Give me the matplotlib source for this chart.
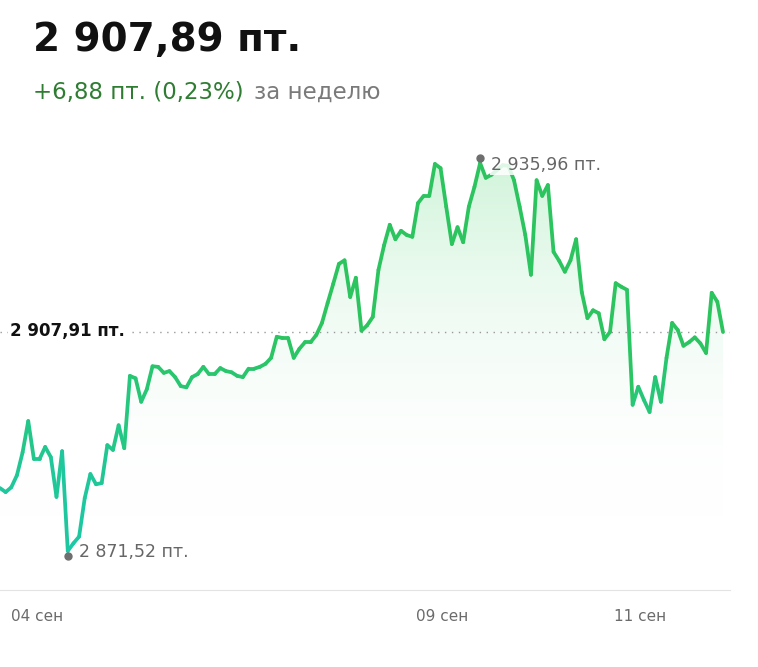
import numpy as np
import matplotlib
matplotlib.use("Agg")
import matplotlib.pyplot as plt
from matplotlib.collections import LineCollection
from matplotlib.colors import LinearSegmentedColormap
from matplotlib.patches import Polygon

values = [2881.97, 2881.3, 2882.1, 2884.1, 2887.9, 2893.1, 2886.8, 2886.8, 2888.8, 2887.1,
          2880.5, 2888.1, 2871.52, 2872.8, 2873.9, 2880.3, 2884.3, 2882.6, 2882.8, 2889.1,
          2888.3, 2892.4, 2888.6, 2900.6, 2900.2, 2896.3, 2898.4, 2902.2, 2902.1, 2901.1,
          2901.4, 2900.4, 2898.9, 2898.7, 2900.4, 2900.9, 2902.1, 2900.9, 2900.9, 2901.9,
          2901.4, 2901.2, 2900.6, 2900.4, 2901.8, 2901.8, 2902.1, 2902.6, 2903.6, 2907.1,
          2906.9, 2906.9, 2903.6, 2905.1, 2906.2, 2906.2, 2907.4, 2909.4, 2912.7, 2915.9,
          2919.2, 2919.8, 2913.7, 2916.9, 2908.1, 2909.0, 2910.4, 2918.2, 2922.3, 2925.7,
          2923.3, 2924.7, 2924.0, 2923.7, 2929.3, 2930.5, 2930.5, 2935.8, 2935.1, 2928.7,
          2922.5, 2925.3, 2922.8, 2928.7, 2932.0, 2935.96, 2933.5, 2934.0, 2934.8, 2935.6,
          2935.5, 2933.1, 2928.7, 2924.0, 2917.4, 2933.1, 2930.5, 2932.3, 2921.2, 2919.7,
          2917.9, 2919.8, 2923.3, 2914.5, 2910.2, 2911.5, 2911.0, 2906.7, 2907.9, 2916.0,
          2915.4, 2914.9, 2895.8, 2898.8, 2896.6, 2894.6, 2900.4, 2896.3, 2903.6, 2909.4,
          2908.2, 2905.6, 2906.2, 2907.0, 2906.0, 2904.4, 2914.4, 2912.9, 2907.89]
prev_close = 2907.91
tick_labels = ["04 сен", "09 сен", "11 сен"]
tick_frac = [37 / 723, 442 / 723, 640 / 723]

n = len(values)
x = np.arange(n)
y = np.array(values)

fig = plt.figure(figsize=(7.58, 6.67), dpi=100)
ax = fig.add_axes([0, 1 - 590 / 667, 730 / 758, 450 / 667])
xmax = (n - 1) * 730 / 723
ax.set_xlim(0, xmax)
ylo, yhi = 2865.04, 2939.78
ax.set_ylim(ylo, yhi)
for s in ["top", "right", "left"]:
    ax.spines[s].set_visible(False)
ax.spines["bottom"].set_color("#e3e3e3")
ax.set_yticks([])
ax.set_xticks([f * (n - 1) for f in tick_frac])
ax.set_xticklabels(tick_labels, color="#6b6b6b", fontsize=11)
ax.tick_params(axis="x", length=0, pad=14)

# gradient fill
fillcmap = LinearSegmentedColormap.from_list("f", [(1, 1, 1, 0), (0.82, 0.96, 0.86, 1)])
grad = np.linspace(0, 1, 256).reshape(-1, 1)
im = ax.imshow(grad, extent=[0, n - 1, 2877, max(values)], origin="lower",
               aspect="auto", cmap=fillcmap, zorder=1)
poly = Polygon(np.column_stack([np.r_[x, x[-1], 0], np.r_[y, 2877, 2877]]),
               closed=True, transform=ax.transData, facecolor="none", edgecolor="none")
ax.add_patch(poly)
im.set_clip_path(poly)

# dotted reference line
ax.axhline(prev_close, color="#9a9a9a", lw=1, ls=(0, (1, 4)), zorder=2)

# gradient line (teal at the low left, green at the top/right)
pts = np.column_stack([x, y]).reshape(-1, 1, 2)
segs = np.concatenate([pts[:-1], pts[1:]], axis=1)
lcmap = LinearSegmentedColormap.from_list("l", ["#1cc8a8", "#1fc79a", "#26c77c", "#2cc45e", "#2cc45e"])
lc = LineCollection(segs, cmap=lcmap, linewidth=2.7, capstyle="round", joinstyle="round", zorder=3)
lc.set_array(((y[:-1] + y[1:]) / 2))
lc.set_clim(2871, 2920)
ax.add_collection(lc)

imin = int(np.argmin(y)); imax = int(np.argmax(y))
ax.plot([imin], [y[imin] - 0.8], "o", color="#6e6e6e", ms=5, zorder=4)
ax.plot([imax], [y[imax] + 0.9], "o", color="#6e6e6e", ms=5, zorder=4)
ax.text(imin + 1.9, y[imin] - 0.2, "2 871,52 пт.", color="#666666", fontsize=12.5, va="center",
        bbox=dict(fc="white", ec="none", pad=1, alpha=0.85), zorder=5)
ax.text(imax + 2.0, y[imax] - 0.3, "2 935,96 пт.", color="#666666", fontsize=12.5, va="center",
        bbox=dict(fc="white", ec="none", pad=1, alpha=0.85), zorder=5)

fig.text(10 / 758, 1 - 331 / 667, "2 907,91 пт.", fontsize=12, color="#111111",
         fontweight="semibold", va="center", ha="left",
         bbox=dict(fc="white", ec="none", pad=1.5))

fig.text(33 / 758, 1 - 40 / 667, "2 907,89 пт.", fontsize=28, fontweight="bold",
         color="#111111", va="center", ha="left")
t1 = fig.text(33 / 758, 1 - 92 / 667, "+6,88 пт. (0,23%)", fontsize=16.5,
              color="#2e7d32", va="center", ha="left")
fig.canvas.draw()
bb = t1.get_window_extent()
fig.text((bb.x1 + 10) / 758, 1 - 92 / 667, "за неделю", fontsize=16.5,
         color="#7a7a7a", va="center", ha="left")

fig.savefig("out.png", dpi=100)
